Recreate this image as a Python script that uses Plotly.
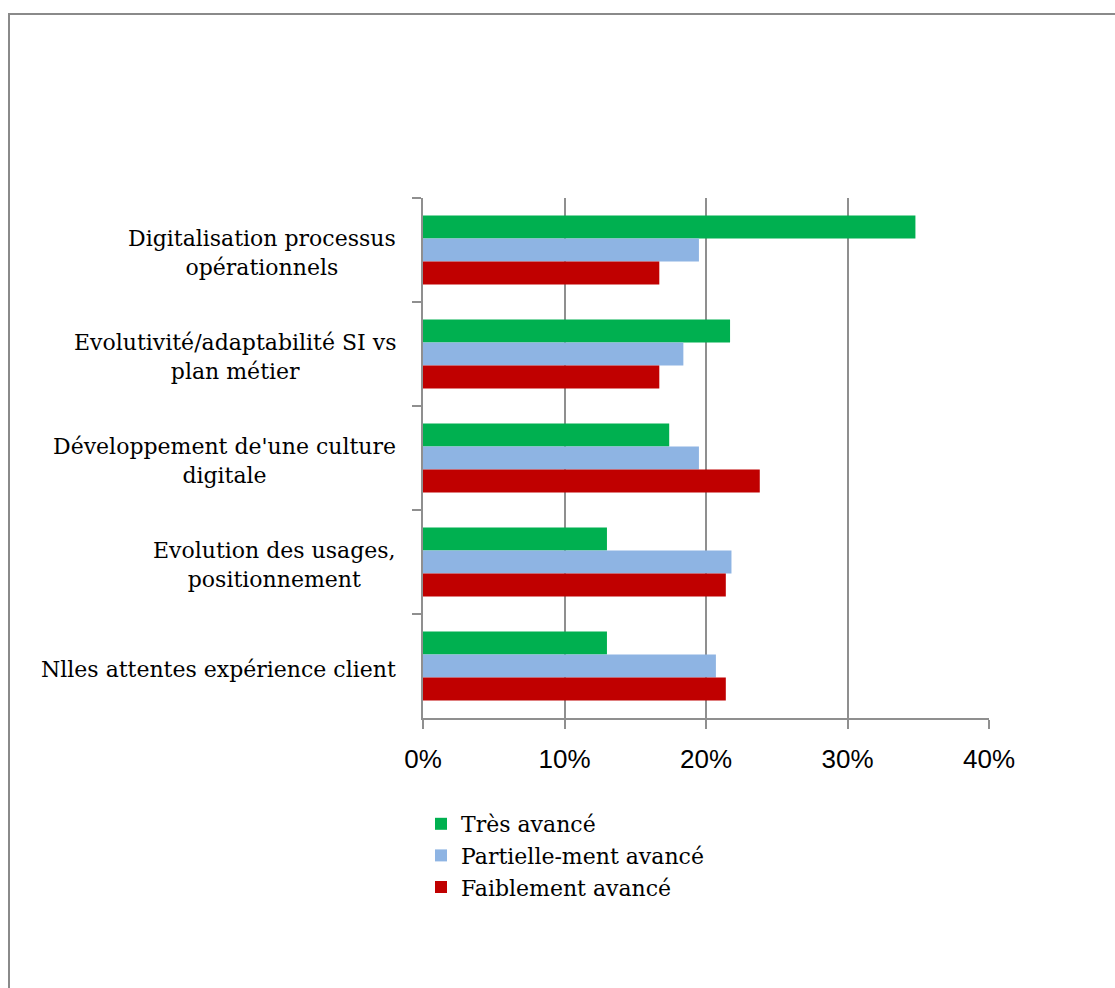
import plotly.graph_objects as go

# Domains of digital transformation (top to bottom)
categories = [
    "Digitalisation processus<br>opérationnels",
    "Evolutivité/adaptabilité SI vs<br>plan métier",
    "Développement de'une culture<br>digitale",
    "Evolution des usages,<br>positionnement",
    "Nlles attentes expérience client",
]
series_names = ["Très avancé", "Partielle-ment avancé", "Faiblement avancé"]
tres_avance = [34.8, 21.7, 17.4, 13.0, 13.0]
partiellement_avance = [19.5, 18.4, 19.5, 21.8, 20.7]
faiblement_avance = [16.7, 16.7, 23.8, 21.4, 21.4]
x_ticks = [0, 10, 20, 30, 40]
x_tick_labels = ["0%", "10%", "20%", "30%", "40%"]

colors = ["#00B050", "#8EB4E3", "#C00000"]
series_values = [tres_avance, partiellement_avance, faiblement_avance]

W, H = 1115, 988
L, R, T, B = 423, 126, 198, 270
plot_w, plot_h = W - L - R, H - T - B
grid = "#8f8f8f"
serif = "DejaVu Serif"

fig = go.Figure()
for name, vals, col in zip(series_names, series_values, colors):
    fig.add_trace(go.Bar(
        y=categories, x=vals, name=name, orientation="h",
        marker=dict(color=col, line=dict(width=0)),
        hoverinfo="x+y",
    ))

# Category labels, centred line by line, to the left of the axis
for cat in categories:
    fig.add_annotation(
        x=0, xref="paper", y=cat, yref="y", xanchor="right", yanchor="middle",
        xshift=-25, yshift=-3, text=cat, showarrow=False, align="center",
        font=dict(family=serif, size=22, color="#000000"),
    )

# Chart frame
def px_x(p):
    return (p - L) / plot_w

def px_y(p):
    return (H - B - p) / plot_h

fig.add_shape(type="rect", xref="paper", yref="paper",
              x0=px_x(9), x1=px_x(1125), y0=px_y(998), y1=px_y(14),
              line=dict(color="#8a8a8a", width=2), layer="below")

fig.update_layout(
    width=W, height=H,
    margin=dict(l=L, r=R, t=T, b=B, pad=0),
    paper_bgcolor="white", plot_bgcolor="white",
    barmode="group", bargap=0.337, bargroupgap=0,
    showlegend=True,
    legend=dict(
        orientation="v", x=px_x(421), y=px_y(803), xanchor="left", yanchor="top",
        font=dict(family=serif, size=22, color="#000000"),
        bgcolor="rgba(0,0,0,0)", borderwidth=0, tracegroupgap=0, itemwidth=30,
    ),
    xaxis=dict(
        range=[0, 40], tickmode="array", tickvals=x_ticks, ticktext=x_tick_labels,
        showgrid=True, gridcolor=grid, gridwidth=2,
        showline=True, linecolor=grid, linewidth=2,
        ticks="outside", ticklen=9, tickwidth=2, tickcolor=grid,
        zeroline=False, ticklabelstandoff=8,
        tickfont=dict(family="Liberation Sans", size=26, color="#000000"),
    ),
    yaxis=dict(
        type="category", categoryorder="array", categoryarray=categories,
        autorange="reversed", showticklabels=False, showgrid=False,
        showline=True, linecolor=grid, linewidth=2,
        ticks="outside", tickson="boundaries", ticklen=9, tickwidth=2,
        tickcolor=grid, zeroline=False,
    ),
)

fig.write_html("out.html")
